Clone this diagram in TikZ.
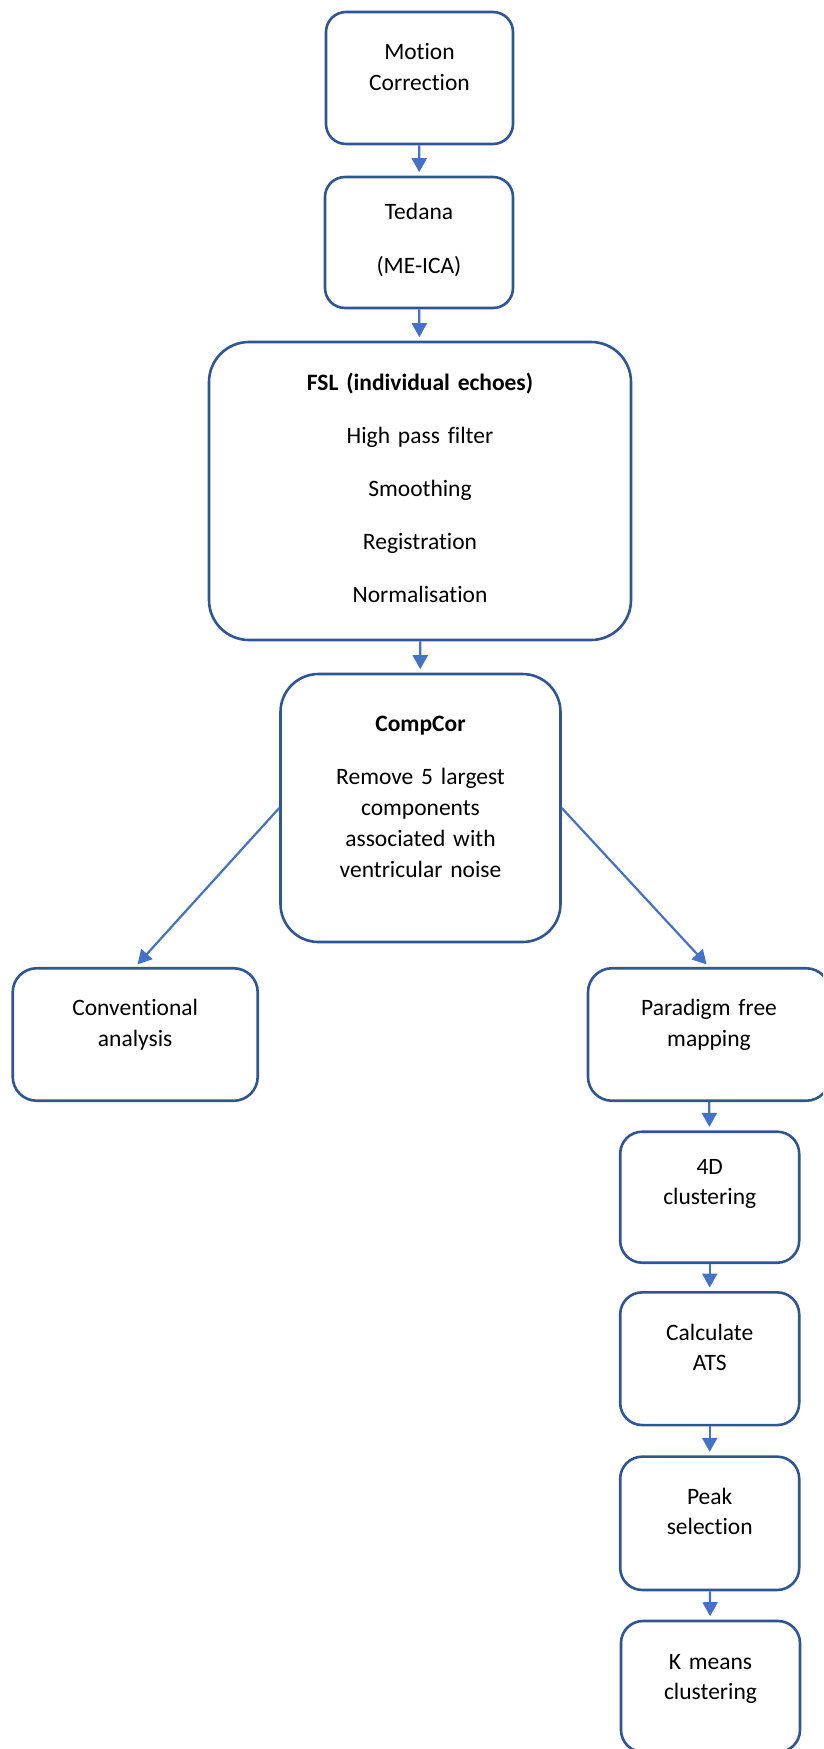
\documentclass[tikz,border=0pt]{standalone}
\usepackage{fontspec}
\setmainfont{Carlito}[Ligatures={NoCommon,NoContextual}]
\usetikzlibrary{arrows.meta}
\definecolor{boxblue}{HTML}{2F5597}
\definecolor{arrowblue}{HTML}{4472C4}
\tikzset{
  stage/.style={draw=boxblue, line width=2.6pt, align=center, inner xsep=0pt, inner ysep=0pt,
    font=\fontsize{23.5}{31}\selectfont},
  substage/.style={stage, rounded corners=22pt, text width=179pt,
    font=\fontsize{23.5}{30}\selectfont},
  flow/.style={color=arrowblue, line width=2.2pt, -{Triangle[width=15pt,length=14pt]}, shorten >=3.5pt}
}
\begin{document}
\begin{tikzpicture}[x=1pt,y=-1pt]
      \useasboundingbox (0,0) rectangle (823,1749);
      \clip (0,0) rectangle (823,1749);
      \draw
        (419.5,78) node[stage, rounded corners=20pt, text width=187pt, text height=47pt, text depth=85pt] (motion) {Motion\\Correction}
        (419,242.5) node[stage, rounded corners=20pt, text width=188pt, text height=42pt, text depth=89pt] (tedana) {Tedana\\[23pt](ME-ICA)}
        (420,491) node[stage, rounded corners=40pt, text width=422pt, text height=48pt, text depth=250pt] (fsl) {\textbf{FSL (individual echoes)}\\[22pt]High pass filter\\[22pt]Smoothing\\[22pt]Registration\\[22pt]Normalisation}
        (420.5,808) node[stage, rounded corners=38pt, text width=280pt, text height=57pt, text depth=211pt] (compcor) {\textbf{CompCor}\\[22pt]Remove 5 largest\\components\\associated with\\ventricular noise}
        (135.2,1034.5) node[stage, rounded corners=24pt, text width=245pt, text height=47.5pt, text depth=85pt] (conv) {Conventional\\analysis}
        (709,1034.5) node[stage, rounded corners=24pt, text width=242pt, text height=47.5pt, text depth=85pt] (paradigm) {Paradigm free\\mapping}
        (709.7,1197.2) node[substage, text height=42.3pt, text depth=88.7pt] (fourd) {4D\\clustering}
        (709.7,1358.7) node[substage, text height=48.4pt, text depth=84.3pt] (ats) {Calculate\\ATS}
        (709.7,1523.3) node[substage, text height=48.3pt, text depth=85pt] (peak) {Peak\\selection}
        (710.5,1686.5) node[substage, text height=48.3pt, text depth=82.7pt] (kmeans) {K means\\clustering};
      \begin{scope}[flow]
        \draw (motion) to (tedana);
        \draw (tedana) to (fsl);
        \draw (fsl) to (compcor);
        \draw (compcor.west) to (conv.north);
        \draw (compcor.east) to (paradigm.north);
        \draw (paradigm) to (fourd);
        \draw (fourd) to (ats);
        \draw (ats) to (peak);
        \draw (peak) to (kmeans);
      \end{scope}
    \end{tikzpicture}
\end{document}
